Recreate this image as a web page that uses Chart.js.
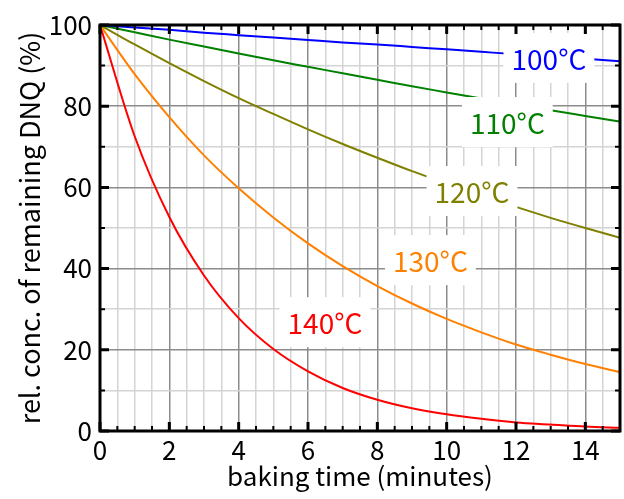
<!DOCTYPE html>
<html>
<head>
<meta charset="utf-8">
<script src="https://cdn.jsdelivr.net/npm/chart.js@4"></script>
<style>
  html, body { margin: 0; padding: 0; background: #fff; }
</style>
</head>
<body>
<canvas id="dnqChart" width="624" height="499"></canvas>
<script>
// baking time in minutes
const minutes = [0, 1, 2, 3, 4, 5, 6, 7, 8, 9, 10, 11, 12, 13, 14, 15];

// remaining DNQ (%)
const conc100 = [100, 99.4, 98.8, 98.1, 97.5, 96.9, 96.3, 95.7, 95.2, 94.6, 94.0, 93.4, 92.8, 92.3, 91.7, 91.1];
const conc110 = [100, 98.2, 96.4, 94.7, 93.0, 91.3, 89.7, 88.1, 86.5, 84.9, 83.4, 81.9, 80.5, 79.0, 77.6, 76.2];
const conc120 = [100, 95.2, 90.6, 86.2, 82.0, 78.1, 74.3, 70.7, 67.3, 64.0, 61.0, 58.0, 55.2, 52.5, 50.0, 47.6];
const conc130 = [100, 87.9, 77.3, 67.9, 59.8, 52.6, 46.2, 40.6, 35.7, 31.4, 27.6, 24.3, 21.3, 18.8, 16.5, 14.5];
const conc140 = [100, 72.6, 52.7, 38.3, 27.8, 20.2, 14.7, 10.6, 7.7, 5.6, 4.1, 3.0, 2.1, 1.6, 1.1, 0.8];

const seriesNames = ['100°C', '110°C', '120°C', '130°C', '140°C'];
const seriesColors = ['#0000ff', '#008000', '#808000', '#ff8000', '#ff0000'];

const FONT = "'Noto Sans CJK JP', 'Noto Sans', sans-serif";

function toPoints(arr) {
    return arr.map((v, i) => ({ x: minutes[i], y: v }));
}

// where the in-plot labels sit (data coordinates)
const labelSpots = [
    { x: 12.95, y: 91.9 },
    { x: 11.75, y: 76.1 },
    { x: 10.73, y: 59.1 },
    { x: 9.53, y: 42.1 },
    { x: 6.49, y: 26.8 }
];

const frameAndLabels = {
    id: 'frameAndLabels',
    afterDatasetsDraw(chart) {
        const ctx = chart.ctx;
        const xs = chart.scales.x;
        const ys = chart.scales.y;
        const area = chart.chartArea;

        // labels with white boxes
        ctx.save();
        ctx.font = '28px ' + FONT;
        ctx.textAlign = 'center';
        ctx.textBaseline = 'middle';
        seriesNames.forEach((name, i) => {
            const px = xs.getPixelForValue(labelSpots[i].x);
            const py = ys.getPixelForValue(labelSpots[i].y);
            const w = ctx.measureText(name).width;
            ctx.fillStyle = '#fff';
            ctx.fillRect(px - w / 2 - 8, py - 25, w + 16, 50);
            ctx.fillStyle = seriesColors[i];
            ctx.fillText(name, px, py + 1);
        });
        ctx.restore();

        // inward ticks
        ctx.save();
        ctx.strokeStyle = '#000';
        xs.ticks.forEach(t => {
            const px = xs.getPixelForValue(t.value);
            const major = t.value % 2 === 0;
            const len = major ? 9 : 5;
            ctx.lineWidth = major ? 3 : 2;
            ctx.beginPath();
            ctx.moveTo(px, area.bottom);
            ctx.lineTo(px, area.bottom - len);
            ctx.moveTo(px, area.top);
            ctx.lineTo(px, area.top + len);
            ctx.stroke();
        });
        ys.ticks.forEach(t => {
            const py = ys.getPixelForValue(t.value);
            const major = t.value % 20 === 0;
            const len = major ? 9 : 5;
            ctx.lineWidth = major ? 3 : 2;
            ctx.beginPath();
            ctx.moveTo(area.left, py);
            ctx.lineTo(area.left + len, py);
            ctx.moveTo(area.right, py);
            ctx.lineTo(area.right - len, py);
            ctx.stroke();
        });

        // frame
        ctx.lineWidth = 3;
        ctx.strokeRect(area.left, area.top, area.right - area.left, area.bottom - area.top);
        ctx.restore();
    }
};

const allSeries = [conc100, conc110, conc120, conc130, conc140];

new Chart(document.getElementById('dnqChart'), {
    type: 'line',
    data: {
        datasets: allSeries.map((arr, i) => ({
            label: seriesNames[i],
            data: toPoints(arr),
            borderColor: seriesColors[i],
            borderWidth: 2,
            pointRadius: 0,
            fill: false,
            cubicInterpolationMode: 'monotone'
        }))
    },
    options: {
        responsive: false,
        animation: false,
        layout: { padding: { top: 25, right: 4, left: 0, bottom: 0 } },
        plugins: {
            legend: { display: false },
            tooltip: { enabled: false }
        },
        scales: {
            x: {
                type: 'linear',
                min: 0,
                max: 15,
                afterFit: s => { s.height = 68; },
                border: { display: false },
                grid: {
                    drawTicks: false,
                    lineWidth: 1.5,
                    color: c => (c.tick.value % 2 === 0 ? '#8c8c8c' : '#d4d4d4')
                },
                ticks: {
                    stepSize: 0.5,
                    autoSkip: false,
                    maxRotation: 0,
                    padding: 4,
                    color: '#000',
                    font: { family: FONT, size: 26 },
                    callback: v => (v % 2 === 0 ? String(v) : '')
                },
                title: {
                    display: true,
                    text: 'baking time (minutes)',
                    color: '#000',
                    font: { family: FONT, size: 26 },
                    padding: { top: 0, bottom: 7 }
                }
            },
            y: {
                min: 0,
                max: 100,
                afterFit: s => { s.width = 100; },
                border: { display: false },
                grid: {
                    drawTicks: false,
                    lineWidth: 1.5,
                    color: c => (c.tick.value % 20 === 0 ? '#8c8c8c' : '#d4d4d4')
                },
                ticks: {
                    stepSize: 10,
                    padding: 8,
                    color: '#000',
                    font: { family: FONT, size: 26 },
                    callback: v => (v % 20 === 0 ? String(v) : '')
                },
                title: {
                    display: true,
                    text: 'rel. conc. of remaining DNQ (%)',
                    color: '#000',
                    font: { family: FONT, size: 27 },
                    padding: { top: 14, bottom: 0 }
                }
            }
        }
    },
    plugins: [frameAndLabels]
});
</script>
</body>
</html>
